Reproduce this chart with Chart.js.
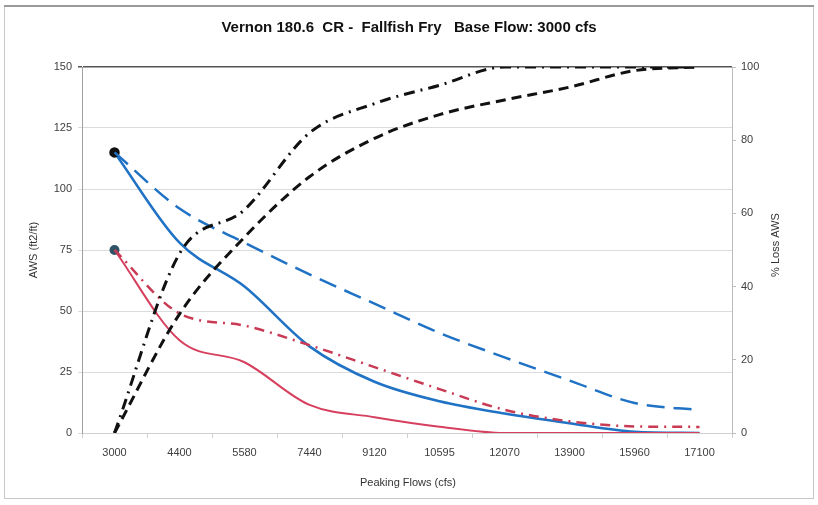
<!DOCTYPE html>
<html>
<head>
<meta charset="utf-8">
<script src="https://cdn.jsdelivr.net/npm/chart.js@4"></script>
<style>
    html, body { margin: 0; padding: 0; background: #fff; }
    #wrap { width: 818px; height: 505px; }
</style>
</head>
<body>
<div id="wrap"><canvas id="flowChart" width="818" height="505"></canvas></div>
<script>
const peakingFlows = ['3000', '4400', '5580', '7440', '9120', '10595', '12070', '13900', '15960', '17100'];

// AWS (ft2/ft), left axis
const awsBlueSolid  = [115, 78, 60, 35.5, 21, 13, 8, 4, 0.5, 0];
const awsBlueDashed = [115, 92, 78, 65, 53, 41, 31, 21.5, 12.3, 9.4];
const awsRedSolid   = [75, 38, 29, 11.5, 6.5, 2.6, 0, 0, 0, 0];
const awsRedDashDot = [75, 49, 44, 36, 27, 18, 9.5, 4.8, 2.7, 2.5];

// % loss AWS, right axis
const lossDashed  = [0, 32.5, 53.5, 70, 80.5, 87, 91, 94.5, 99, 100];
const lossDashDot = [0, 49, 61, 82, 90, 95, 100, 100, 100, 100];

const leftTicks = { min: 0, max: 150, step: 25 };
const rightTicks = { min: 0, max: 100, step: 20 };

const firstOnly = (r) => peakingFlows.map((_, i) => i === 0 ? r : 0);

// fixed frame, axis titles
const decorations = {
    id: 'decorations',
    beforeDraw(chart) {
        const c = chart.ctx;
        c.save();
        c.fillStyle = '#fff';
        c.fillRect(0, 0, chart.width, chart.height);
        c.strokeStyle = '#c8c8c8';
        c.lineWidth = 1;
        c.strokeRect(4.5, 6.5, 809, 492);
        c.strokeStyle = '#9a9a9a';
        c.lineWidth = 2;
        c.beginPath();
        c.moveTo(4, 6); c.lineTo(814, 6);
        c.stroke();
        c.restore();
    },
    afterDraw(chart) {
        const c = chart.ctx;
        c.save();
        c.fillStyle = '#333';
        c.font = '11px "Liberation Sans", Arial, sans-serif';
        c.textAlign = 'center';
        c.textBaseline = 'middle';
        c.fillText('Peaking Flows (cfs)', 408, 483);

        c.translate(34, 250);
        c.rotate(-Math.PI / 2);
        c.fillText('AWS (ft2/ft)', 0, 0);
        c.restore();

        c.save();
        c.fillStyle = '#333';
        c.font = '11px "Liberation Sans", Arial, sans-serif';
        c.textAlign = 'center';
        c.textBaseline = 'middle';
        c.translate(776, 245);
        c.rotate(-Math.PI / 2);
        c.fillText('% Loss AWS', 0, 0);
        c.restore();
    }
};

const ctx = document.getElementById('flowChart').getContext('2d');
new Chart(ctx, {
    type: 'line',
    data: {
        labels: peakingFlows,
        datasets: [
            {
                label: 'Loss dash-dot',
                data: lossDashDot,
                yAxisID: 'y2',
                borderColor: '#111',
                borderWidth: 3,
                borderDash: [11, 6, 2, 6],
                pointRadius: 0
            },
            {
                label: 'Loss dashed',
                data: lossDashed,
                yAxisID: 'y2',
                borderColor: '#111',
                borderWidth: 3,
                borderDash: [10, 6],
                pointRadius: 0
            },
            {
                label: 'Blue dashed',
                data: awsBlueDashed,
                yAxisID: 'y',
                borderColor: '#1f72c4',
                borderWidth: 2.5,
                borderDash: [18, 9],
                pointRadius: 0
            },
            {
                label: 'Red dash-dot',
                data: awsRedDashDot,
                yAxisID: 'y',
                borderColor: '#c93a55',
                borderWidth: 2.5,
                borderDash: [10, 6, 2, 6],
                pointRadius: 0
            },
            {
                label: 'Red solid',
                data: awsRedSolid,
                yAxisID: 'y',
                borderColor: '#d6405e',
                borderWidth: 2,
                pointRadius: firstOnly(4),
                pointBackgroundColor: '#2e5366',
                pointBorderColor: '#2e5366'
            },
            {
                label: 'Blue solid',
                data: awsBlueSolid,
                yAxisID: 'y',
                borderColor: '#1f72c4',
                borderWidth: 2.5,
                pointRadius: firstOnly(4),
                pointBackgroundColor: '#111',
                pointBorderColor: '#111'
            }
        ]
    },
    options: {
        responsive: false,
        animation: false,
        events: [],
        cubicInterpolationMode: 'monotone',
        layout: { padding: { left: 0, right: 0, top: 0, bottom: 0 } },
        plugins: {
            legend: { display: false },
            tooltip: { enabled: false },
            title: {
                display: true,
                text: 'Vernon 180.6  CR -  Fallfish Fry   Base Flow: 3000 cfs',
                color: '#111',
                font: { family: '"Liberation Sans", Arial, sans-serif', size: 15, weight: 'bold', lineHeight: 1.2 },
                padding: { top: 19, bottom: 30 }
            }
        },
        scales: {
            x: {
                offset: true,
                grid: {
                    offset: true,
                    drawOnChartArea: false,
                    drawTicks: true,
                    tickLength: 5,
                    color: '#cfcfcf'
                },
                border: { color: '#d0d0d0' },
                ticks: {
                    color: '#404040',
                    padding: 8,
                    maxRotation: 0,
                    autoSkip: false,
                    font: { family: '"Liberation Sans", Arial, sans-serif', size: 11 }
                },
                afterFit(scale) { scale.height = 72; }
            },
            y: {
                position: 'left',
                min: leftTicks.min,
                max: leftTicks.max,
                ticks: {
                    stepSize: leftTicks.step,
                    color: '#404040',
                    padding: 6,
                    font: { family: '"Liberation Sans", Arial, sans-serif', size: 11 }
                },
                grid: {
                    color: (c) => c.tick && c.tick.value === leftTicks.max ? '#555' : '#dcdcdc',
                    lineWidth: (c) => c.tick && c.tick.value === leftTicks.max ? 1.5 : 1,
                    tickLength: 4
                },
                border: { color: '#a0a0a0' },
                afterFit(scale) { scale.width = 82; }
            },
            y2: {
                position: 'right',
                min: rightTicks.min,
                max: rightTicks.max,
                ticks: {
                    stepSize: rightTicks.step,
                    color: '#404040',
                    padding: 5,
                    font: { family: '"Liberation Sans", Arial, sans-serif', size: 11 }
                },
                grid: {
                    drawOnChartArea: false,
                    tickLength: 4,
                    color: '#bdbdbd'
                },
                border: { color: '#bdbdbd' },
                afterFit(scale) { scale.width = 86; }
            }
        }
    },
    plugins: [decorations]
});
</script>
</body>
</html>
